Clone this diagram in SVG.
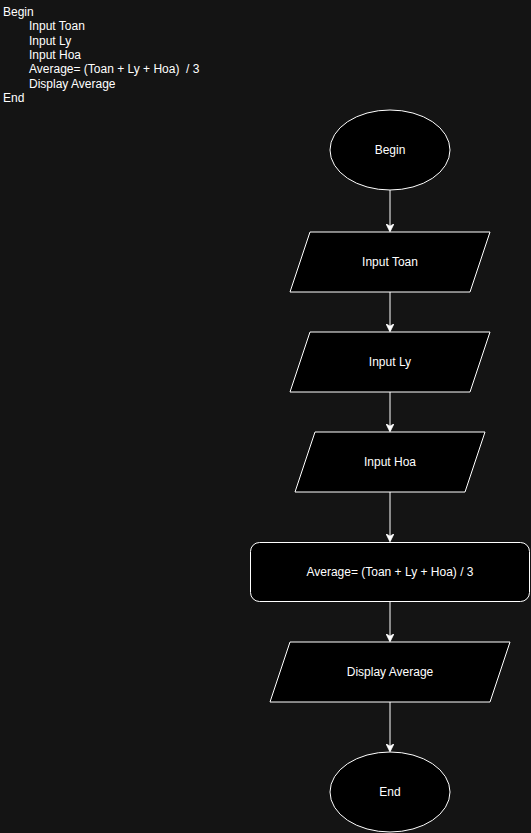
<svg xmlns="http://www.w3.org/2000/svg" width="531" height="833" viewBox="0 0 531 833">
<defs>
<style>
.shape{fill:#000000;stroke:#ffffff;stroke-width:1}
.lbl{fill:#ffffff;font-family:"Liberation Sans",Arial,Helvetica,sans-serif;font-size:12px;text-anchor:middle;dominant-baseline:central}
.code{fill:#ffffff;font-family:"Liberation Sans",Arial,Helvetica,sans-serif;font-size:12px}
.edge{fill:none;stroke:#ffffff;stroke-width:1}
</style>
<marker id="arr" viewBox="0 0 10 10" refX="9" refY="5" markerWidth="8" markerHeight="8" markerUnits="userSpaceOnUse" orient="auto">
<path d="M0,0 L10,5 L0,10 L3,5 Z" fill="#ffffff" stroke="#ffffff" stroke-width="1"/>
</marker>
</defs>
<rect x="0" y="0" width="531" height="833" fill="#141414"/>
<g id="pseudocode">
<text class="code" x="3" y="16">Begin</text>
<text class="code" x="29" y="30.3">Input Toan</text>
<text class="code" x="29" y="44.6">Input Ly</text>
<text class="code" x="29" y="58.9">Input Hoa</text>
<text class="code" x="29" y="73.2" xml:space="preserve">Average= (Toan + Ly + Hoa)  / 3</text>
<text class="code" x="29" y="87.5">Display Average</text>
<text class="code" x="3" y="101.8">End</text>
</g>
<g id="connectors">
<path class="edge" d="M390,190 L390,231" marker-end="url(#arr)"/>
<path class="edge" d="M390,292 L390,331" marker-end="url(#arr)"/>
<path class="edge" d="M390,392 L390,431" marker-end="url(#arr)"/>
<path class="edge" d="M390,492 L390,541" marker-end="url(#arr)"/>
<path class="edge" d="M390,602 L390,641" marker-end="url(#arr)"/>
<path class="edge" d="M390,702 L390,751" marker-end="url(#arr)"/>
</g>
<g id="begin">
<ellipse class="shape" cx="390" cy="150" rx="60" ry="40"/>
<text class="lbl" x="390" y="150">Begin</text>
</g>
<g id="input-toan">
<path class="shape" d="M310,232 L490,232 L470,292 L290,292 Z"/>
<text class="lbl" x="390" y="262">Input Toan</text>
</g>
<g id="input-ly">
<path class="shape" d="M310,332 L490,332 L470,392 L290,392 Z"/>
<text class="lbl" x="390" y="362">Input Ly</text>
</g>
<g id="input-hoa">
<path class="shape" d="M315,432 L485,432 L465,492 L295,492 Z"/>
<text class="lbl" x="390" y="462">Input Hoa</text>
</g>
<g id="average">
<rect class="shape" x="250.5" y="542.5" width="279" height="59" rx="9" ry="9"/>
<text class="lbl" x="390" y="572">Average= (Toan + Ly + Hoa) / 3</text>
</g>
<g id="display-average">
<path class="shape" d="M290,642 L510,642 L490,702 L270,702 Z"/>
<text class="lbl" x="390" y="672">Display Average</text>
</g>
<g id="end">
<ellipse class="shape" cx="390" cy="792" rx="60" ry="40"/>
<text class="lbl" x="390" y="792">End</text>
</g>
</svg>
